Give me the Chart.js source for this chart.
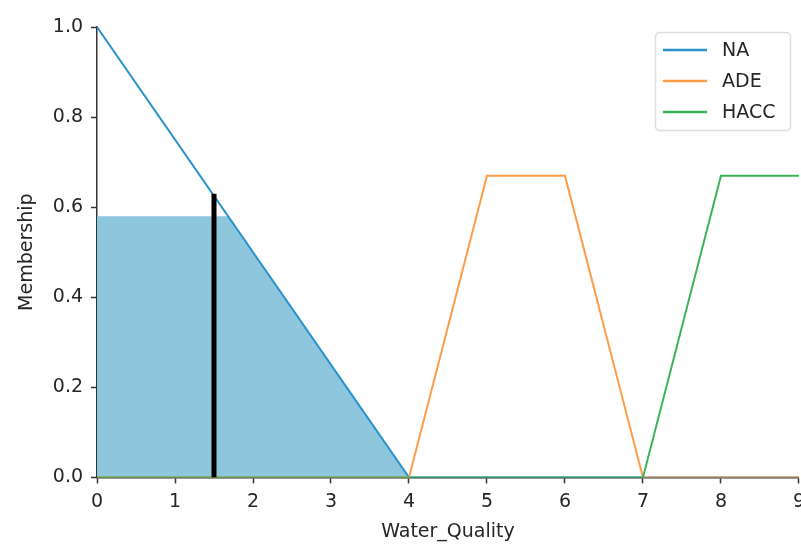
<!DOCTYPE html>
<html>
<head>
<meta charset="utf-8">
<script src="https://cdn.jsdelivr.net/npm/chart.js@4.4.1/dist/chart.umd.min.js"></script>
<style>
  html, body { margin: 0; padding: 0; background: #fff; overflow: hidden; }
  #wrap { width: 812px; height: 547px; position: relative; }
</style>
</head>
<body>
<div id="wrap"><canvas id="mfChart"></canvas></div>
<script>
  // Membership functions (x = water quality, y = membership)
  const xTicks = [0, 1, 2, 3, 4, 5, 6, 7, 8, 9];
  const naX = [0, 4, 9];
  const naY = [1, 0, 0];
  const adeX = [0, 4, 5, 6, 7, 9];
  const adeY = [0, 0, 0.67, 0.67, 0, 0];
  const haccX = [0, 7, 8, 9];
  const haccY = [0, 0, 0.67, 0.67];
  // activation (clipped NA) and crisp input
  const fillX = [0, 1.68, 4];
  const fillY = [0.58, 0.58, 0];
  const inputX = [1.5, 1.5];
  const inputY = [0, 0.63];

  const toPoints = (xs, ys) => xs.map((x, i) => ({ x: x, y: ys[i] }));

  const colors = { NA: '#2b93cc', ADE: '#ff9a45', HACC: '#3cb35a' };

  // legend drawn inside the plot, matplotlib style
  const boxLegend = {
    id: 'boxLegend',
    afterDraw(chart) {
      const c = chart.ctx;
      const items = ['NA', 'ADE', 'HACC'];
      c.save();
      c.fillStyle = 'rgba(255,255,255,0.85)';
      c.strokeStyle = '#dddddd';
      c.lineWidth = 1.5;
      c.beginPath();
      c.roundRect(655.5, 32.5, 135, 98, 4);
      c.fill();
      c.stroke();
      c.font = '19px "DejaVu Sans"';
      c.textBaseline = 'middle';
      items.forEach((name, i) => {
        const y = 50 + i * 31;
        c.strokeStyle = colors[name];
        c.lineWidth = 2.5;
        c.beginPath();
        c.moveTo(663, y);
        c.lineTo(707, y);
        c.stroke();
        c.fillStyle = '#262626';
        c.fillText(name, 722, y + 1);
      });
      c.restore();
    }
  };

  const ctx = document.getElementById('mfChart').getContext('2d');

  const chartConfig = {
    type: 'scatter',
    data: {
      datasets: [
        {
          label: 'fill',
          data: toPoints(fillX, fillY),
          showLine: true,
          borderWidth: 0,
          borderColor: 'rgba(0,0,0,0)',
          backgroundColor: '#8ec6de',
          fill: 'origin',
          pointRadius: 0,
          order: 5
        },
        {
          label: 'NA',
          data: toPoints(naX, naY),
          showLine: true,
          borderColor: colors.NA,
          borderWidth: 2,
          pointRadius: 0,
          fill: false,
          order: 4
        },
        {
          label: 'ADE',
          data: toPoints(adeX, adeY),
          showLine: true,
          borderColor: colors.ADE,
          borderWidth: 2,
          pointRadius: 0,
          fill: false,
          order: 3
        },
        {
          label: 'HACC',
          data: toPoints(haccX, haccY),
          showLine: true,
          borderColor: colors.HACC,
          borderWidth: 2,
          pointRadius: 0,
          fill: false,
          order: 2
        },
        {
          label: 'input',
          data: toPoints(inputX, inputY),
          showLine: true,
          borderColor: '#000000',
          borderWidth: 5,
          pointRadius: 0,
          fill: false,
          order: 1
        }
      ]
    },
    options: {
      responsive: true,
      maintainAspectRatio: false,
      animation: false,
      layout: { padding: { top: 27, left: 12, bottom: 0, right: 0 } },
      plugins: {
        legend: { display: false },
        tooltip: { enabled: false }
      },
      scales: {
        x: {
          type: 'linear',
          min: 0,
          max: 9,
          afterBuildTicks: axis => { axis.ticks = xTicks.map(v => ({ value: v })); },
          grid: { drawOnChartArea: false, drawTicks: true, tickLength: 6, color: '#333', tickWidth: 1.5 },
          border: { color: '#333', width: 1.5 },
          ticks: { color: '#262626', padding: 7, maxRotation: 0, font: { family: 'DejaVu Sans', size: 19 } },
          title: { display: true, text: 'Water_Quality', color: '#262626', padding: { top: 0 }, font: { family: 'DejaVu Sans', size: 19 } }
        },
        y: {
          min: 0,
          max: 1,
          ticks: {
            stepSize: 0.2,
            color: '#262626',
            padding: 8,
            font: { family: 'DejaVu Sans', size: 19 },
            callback: v => v.toFixed(1)
          },
          grid: { drawOnChartArea: false, drawTicks: true, tickLength: 6, color: '#333', tickWidth: 1.5 },
          border: { color: '#333', width: 1.5 },
          title: { display: true, text: 'Membership', color: '#262626', padding: { bottom: 6 }, font: { family: 'DejaVu Sans', size: 19 } }
        }
      }
    },
    plugins: [boxLegend]
  };

  const mfChart = new Chart(ctx, chartConfig);
</script>
</body>
</html>
